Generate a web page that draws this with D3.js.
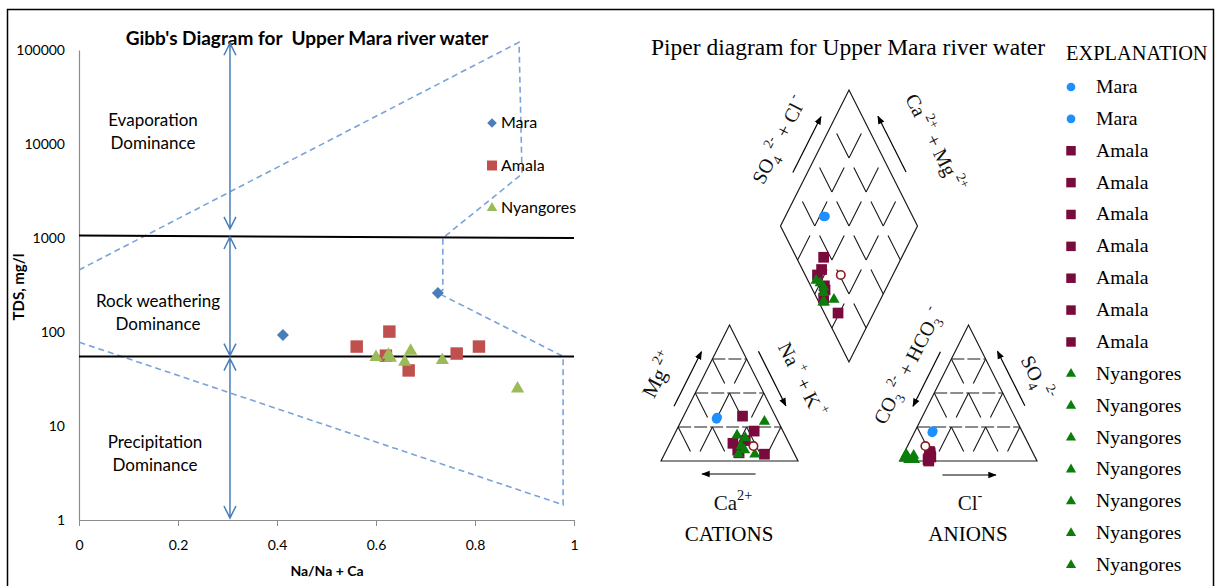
<!DOCTYPE html>
<html>
<head>
<meta charset="utf-8">
<script src="https://cdn.jsdelivr.net/npm/d3@7"></script>
<style>
  body { margin: 0; background: #fff; }
</style>
</head>
<body>
<svg id="chart" width="1216" height="586"></svg>
<script>
// ---- Gibbs data: [Na/(Na+Ca), TDS mg/l]
const gibbsMara = [[0.412, 93], [0.725, 260]];
const gibbsAmala = [[0.561, 70], [0.627, 101], [0.620, 56], [0.666, 39], [0.763, 59], [0.808, 70]];
const gibbsNyangores = [[0.600, 54], [0.629, 53], [0.625, 57], [0.658, 48], [0.670, 63], [0.734, 50], [0.886, 25]];
// dashed boomerang outline and the two zone boundaries
const gibbsOutline = [[0, 457], [0.889, 121000], [0.895, 4800], [0.735, 1000], [0.735, 280], [0.725, 260], [0.978, 55], [0.978, 1.45], [0, 78]];
const zoneLines = [[[0, 1060], [1, 1000]], [[0, 55], [1, 55]]];
const zoneArrows = [[118000, 1250], [1025, 56], [52, 1.05]];
const zoneArrowX = 0.305;
const yTicks = [1, 10, 100, 1000, 10000, 100000];
const xTicks = [0, 0.2, 0.4, 0.6, 0.8, 1];

// ---- Piper data
// cations [Ca, Mg, Na+K] %, anions [HCO3+CO3, SO4, Cl] %, diamond [Na+K, SO4+Cl] %
const maraCations = [[43, 32, 25], [44, 31, 25]];
const maraAnions = [[65, 22, 13], [66, 21, 13]];
const maraDiamond = [[28, 35], [29, 36]];
const amalaCations = [[24, 33, 43], [21, 22, 57], [41, 13, 46], [22, 5, 73], [40, 6, 54], [31, 15, 54], [40, 8, 52]];
const amalaAnions = [[75, 7, 18], [78, 2, 20], [76, 4, 20], [79, 1, 20], [76, 3, 21], [79, 0, 21], [75, 6, 19]];
const amalaDiamond = [[43, 20], [45, 9], [54, 10], [58, 5], [74, 10], [46, 14], [56, 9]];
const nyangoresCations = [[10, 29, 61], [35, 19, 46], [30, 17, 53], [36, 11, 53], [29, 5, 66], [41, 5, 54], [35, 8, 57]];
const nyangoresAnions = [[96, 2, 2], [93, 3, 4], [91, 1, 8], [88, 4, 8], [93, 5, 2], [93, 1, 6], [89, 1, 10]];
const nyangoresDiamond = [[46, 6], [54, 9], [56, 7], [59, 3], [66, 12], [60, 4], [50, 8]];
const openCations = [[27, 11, 62]];
const openAnions = [[76, 11, 13]];
const openDiamond = [[62, 26]];

const serif = '"Liberation Serif", "Times New Roman", serif';
const sans = 'Lato, "Open Sans", sans-serif';

const svg = d3.select('#chart');

// frame
svg.append('rect')
  .attr('x', 7.5).attr('y', 9.5)
  .attr('width', 1206).attr('height', 600)
  .attr('fill', 'none').attr('stroke', '#000').attr('stroke-width', 1.5);

// ================= GIBBS =================
const gx = d3.scaleLinear().domain([0, 1]).range([79, 574]);
const gy = d3.scaleLog().domain([1, 100000]).range([520, 50]);
const gibbs = svg.append('g');

gibbs.append('text')
  .attr('x', 307).attr('y', 45)
  .attr('text-anchor', 'middle')
  .attr('font-family', sans).attr('font-weight', 'bold').attr('font-size', 19)
  .attr('xml:space', 'preserve')
  .text("Gibb's Diagram for  Upper Mara river water");

const xAxis = gibbs.append('g')
  .attr('transform', `translate(0,${gy(1)})`)
  .call(d3.axisBottom(gx).tickValues(xTicks).tickFormat(d => d).tickSize(6).tickSizeOuter(0).tickPadding(14));
const yAxis = gibbs.append('g')
  .attr('transform', `translate(${gx(0)},0)`)
  .call(d3.axisLeft(gy).tickValues(yTicks).tickFormat(d3.format('d')).tickSize(0).tickPadding(14));
[xAxis, yAxis].forEach(a => {
  a.select('.domain').attr('stroke', '#8c8c8c').attr('stroke-width', 1.2);
  a.selectAll('.tick line').attr('stroke', '#8c8c8c');
  a.selectAll('text').attr('font-family', sans).attr('font-size', 14).attr('fill', '#000');
});

gibbs.append('text')
  .attr('transform', `translate(24,287) rotate(-90)`)
  .attr('text-anchor', 'middle')
  .attr('font-family', sans).attr('font-weight', 'bold').attr('font-size', 15)
  .text('TDS, mg/l');
gibbs.append('text')
  .attr('x', 327).attr('y', 576)
  .attr('text-anchor', 'middle')
  .attr('font-family', sans).attr('font-weight', 'bold').attr('font-size', 14)
  .text('Na/Na + Ca');

// dashed outline
const gLine = d3.line().x(d => gx(d[0])).y(d => gy(d[1]));
gibbs.append('path')
  .attr('d', gLine(gibbsOutline))
  .attr('fill', 'none').attr('stroke', '#7aa3d8').attr('stroke-width', 1.6)
  .attr('stroke-dasharray', '6,4');

// zone boundaries
gibbs.selectAll('.zone').data(zoneLines).join('path')
  .attr('class', 'zone')
  .attr('d', gLine)
  .attr('stroke', '#000').attr('stroke-width', 2).attr('fill', 'none');

// double headed arrows
const ax = gx(zoneArrowX);
const head = (y, dir) => `M${ax - 6},${y - dir * 12}L${ax},${y}L${ax + 6},${y - dir * 12}`;
zoneArrows.forEach(([top, bot]) => {
  const y1 = gy(top), y2 = gy(bot);
  gibbs.append('path')
    .attr('d', `M${ax},${y1}L${ax},${y2}` + head(y1, -1) + head(y2, 1))
    .attr('fill', 'none').attr('stroke', '#4a7ebb').attr('stroke-width', 1.5);
});

// zone labels
const zoneLabels = [['Evaporation', 'Dominance', 153, 126], ['Rock weathering', 'Dominance', 158, 307], ['Precipitation', 'Dominance', 155, 448]];
zoneLabels.forEach(([a, b, x, y]) => {
  const t = gibbs.append('text').attr('text-anchor', 'middle')
    .attr('font-family', sans).attr('font-size', 17).attr('fill', '#000');
  t.append('tspan').attr('x', x).attr('y', y).text(a);
  t.append('tspan').attr('x', x).attr('y', y + 23).text(b);
});

// points
const diamondSym = d3.symbol().type(d3.symbolSquare).size(72)();
const squareSym = d3.symbol().type(d3.symbolSquare).size(155)();
const triSym = d3.symbol().type(d3.symbolTriangle).size(75)();
const gibbsSeries = [
  { name: 'Mara', data: gibbsMara, d: diamondSym, rot: 45, color: '#4a7ebb' },
  { name: 'Amala', data: gibbsAmala, d: squareSym, rot: 0, color: '#c0504d' },
  { name: 'Nyangores', data: gibbsNyangores, d: triSym, rot: 0, color: '#9bbb59' }
];
gibbsSeries.forEach(s => {
  gibbs.append('g').selectAll('path').data(s.data).join('path')
    .attr('d', s.d)
    .attr('transform', d => `translate(${gx(d[0])},${gy(d[1])}) rotate(${s.rot})`)
    .attr('fill', s.color);
});

// legend
const gLegend = gibbs.append('g').attr('transform', 'translate(492,123)');
gibbsSeries.forEach((s, i) => {
  gLegend.append('path').attr('d', s.d)
    .attr('transform', `translate(0,${i * 42.5}) scale(0.8) rotate(${s.rot})`)
    .attr('fill', s.color);
  gLegend.append('text').attr('x', 9).attr('y', i * 42.5 + 5)
    .attr('font-family', sans).attr('font-size', 16).text(s.name);
});

// ================= PIPER =================
const piper = svg.append('g');
const triW = 137, triH = 136;
const cationLeft = 661, anionLeft = 900, baseY = 461;
const dB = [(cationLeft + triW + anionLeft) / 2, 362];
const pw = d3.scaleLinear().domain([0, 100]).range([0, triW]);
const ph = d3.scaleLinear().domain([0, 100]).range([0, triH]);

const cationPt = ([ca, mg, nak]) => [cationLeft + pw(nak + mg / 2), baseY - ph(mg)];
const anionPt = ([hco3, so4, cl]) => [anionLeft + pw(cl + so4 / 2), baseY - ph(so4)];
const diamondPt = ([nak, sc]) => {
  const a = sc, c = 100 - nak;
  return [dB[0] + pw(a - c) / 2, dB[1] - ph(a + c)];
};

piper.append('text')
  .attr('x', 848).attr('y', 55).attr('text-anchor', 'middle')
  .attr('font-family', serif).attr('font-size', 23.5)
  .text('Piper diagram for Upper Mara river water');

const ink = '#1a1a1a';
const lerp = (p, q, t) => [p[0] + (q[0] - p[0]) * t, p[1] + (q[1] - p[1]) * t];
const dist = (p, q) => Math.hypot(q[0] - p[0], q[1] - p[1]);

function gridLine(p, q, segLen, dash) {
  piper.append('line')
    .attr('x1', p[0]).attr('y1', p[1]).attr('x2', q[0]).attr('y2', q[1])
    .attr('stroke', ink).attr('stroke-width', 1.1)
    .attr('stroke-dasharray', dash || `${segLen * 0.72} ${segLen * 0.28}`);
}

// triangles
function triangle(left) {
  const A = [left, baseY], C = [left + triW, baseY], T = [left + triW / 2, baseY - triH];
  piper.append('path').attr('d', `M${A}L${T}L${C}Z`)
    .attr('fill', 'none').attr('stroke', ink).attr('stroke-width', 1.2);
  const seg = dist(A, T) / 4;
  for (let k = 1; k <= 3; k++) {
    // horizontal
    gridLine(lerp(A, T, 1 - k / 4), lerp(C, T, 1 - k / 4), 0, '13 3');
    // lines parallel to the left side, drawn from the top down
    gridLine(lerp(C, T, 1 - k / 4), lerp(A, C, k / 4), seg);
    // lines parallel to the right side, drawn from the top down
    gridLine(lerp(A, T, k / 4), lerp(A, C, k / 4), seg);
  }
  return { A, C, T };
}
const cTri = triangle(cationLeft);
const aTri = triangle(anionLeft);

// diamond
const dL = [dB[0] - triW / 2, dB[1] - triH], dR = [dB[0] + triW / 2, dB[1] - triH], dT = [dB[0], dB[1] - 2 * triH];
piper.append('path').attr('d', `M${dB}L${dL}L${dT}L${dR}Z`)
  .attr('fill', 'none').attr('stroke', ink).attr('stroke-width', 1.2);
const dSeg = dist(dB, dL) / 4;
for (let k = 1; k <= 3; k++) {
  const s1 = lerp(dB, dR, k / 4);
  gridLine(s1, [s1[0] + dL[0] - dB[0], s1[1] + dL[1] - dB[1]], dSeg);
  const s2 = lerp(dB, dL, k / 4);
  gridLine(s2, [s2[0] + dR[0] - dB[0], s2[1] + dR[1] - dB[1]], dSeg);
}

// arrows parallel to the sides
svg.append('defs').append('marker')
  .attr('id', 'ah').attr('viewBox', '0 0 10 10').attr('refX', 9).attr('refY', 5)
  .attr('markerWidth', 7).attr('markerHeight', 7).attr('orient', 'auto')
  .append('path').attr('d', 'M0,1L10,5L0,9Z').attr('fill', '#000');

function sideArrow(p, q, t0, t1, off) {
  const L = dist(p, q);
  const n = [-(q[1] - p[1]) / L * off, (q[0] - p[0]) / L * off];
  const a = lerp(p, q, t0), b = lerp(p, q, t1);
  piper.append('line')
    .attr('x1', a[0] + n[0]).attr('y1', a[1] + n[1])
    .attr('x2', b[0] + n[0]).attr('y2', b[1] + n[1])
    .attr('stroke', '#000').attr('stroke-width', 1.2)
    .attr('marker-end', 'url(#ah)');
}
sideArrow(dL, dT, 0.35, 0.76, -13);
sideArrow(dR, dT, 0.35, 0.76, 14);
sideArrow(cTri.A, cTri.T, 0.36, 0.76, -13);
sideArrow(cTri.T, cTri.C, 0.24, 0.64, -14);
sideArrow(cTri.C, cTri.A, 0.31, 0.70, -13);
sideArrow(aTri.T, aTri.A, 0.24, 0.64, 13);
sideArrow(aTri.C, aTri.T, 0.36, 0.76, 14);
sideArrow(aTri.A, aTri.C, 0.31, 0.70, 14);

// chemistry labels: 0 normal, 1 subscript, 2 superscript
function chem(parts, x, y, angle, size) {
  const t = piper.append('text')
    .attr('transform', `translate(${x},${y}) rotate(${angle})`)
    .attr('text-anchor', 'middle')
    .attr('font-family', serif).attr('font-size', size).attr('fill', '#111');
  let cur = 0;
  parts.forEach(([s, k]) => {
    const shift = k === 1 ? size * 0.28 : k === 2 ? -size * 0.5 : 0;
    t.append('tspan').attr('dy', shift - cur).attr('font-size', k ? size * 0.68 : size).text(s);
    cur = shift;
  });
}
chem([['SO', 0], ['4', 1], [' 2-', 2], ['  + Cl', 0], [' -', 2]], 785, 143, -63, 20);
chem([['Ca', 0], [' 2+', 2], [' + Mg', 0], [' 2+', 2]], 929, 146, 63, 20);
chem([['Mg', 0], [' 2+', 2]], 665, 378, -63, 21);
chem([['Na', 0], [' +', 2], [' + K', 0], [' +', 2]], 796, 383, 63, 20);
chem([['CO', 0], ['3', 1], [' 2-', 2], [' + HCO', 0], ['3', 1], [' -', 2]], 914, 369, -63, 20);
chem([['SO', 0], ['4', 1], [' 2-', 2]], 1031, 381, 63, 20);
chem([['Ca', 0], ['2+', 2]], 733, 510, 0, 21);
chem([['Cl', 0], ['-', 2]], 970, 510, 0, 21);
piper.append('text').attr('x', 729).attr('y', 541).attr('text-anchor', 'middle')
  .attr('font-family', serif).attr('font-size', 21).text('CATIONS');
piper.append('text').attr('x', 968).attr('y', 541).attr('text-anchor', 'middle')
  .attr('font-family', serif).attr('font-size', 21).text('ANIONS');

// piper markers
const pCircle = d3.symbol().type(d3.symbolCircle).size(72)();
const pSquare = d3.symbol().type(d3.symbolSquare).size(115)();
const pTri = d3.symbol().type(d3.symbolTriangle).size(55)();
const piperSeries = [
  { name: 'Mara', cat: maraCations, an: maraAnions, dia: maraDiamond, d: pCircle, color: '#1e8fff' },
  { name: 'Amala', cat: amalaCations, an: amalaAnions, dia: amalaDiamond, d: pSquare, color: '#7a0a3c' },
  { name: 'Nyangores', cat: nyangoresCations, an: nyangoresAnions, dia: nyangoresDiamond, d: pTri, color: '#0a7d0a' }
];
piperSeries.forEach(s => {
  const pts = s.cat.map(cationPt).concat(s.an.map(anionPt), s.dia.map(diamondPt));
  piper.append('g').selectAll('path').data(pts).join('path')
    .attr('d', s.d)
    .attr('transform', d => `translate(${d[0]},${d[1]})`)
    .attr('fill', s.color);
});
const openPts = openCations.map(cationPt).concat(openAnions.map(anionPt), openDiamond.map(diamondPt));
piper.append('g').selectAll('circle').data(openPts).join('circle')
  .attr('cx', d => d[0]).attr('cy', d => d[1]).attr('r', 4.2)
  .attr('fill', '#fff').attr('stroke', '#8b1a1a').attr('stroke-width', 1.6);

// explanation legend
piper.append('text').attr('x', 1066).attr('y', 60)
  .attr('font-family', serif).attr('font-size', 20.4).text('EXPLANATION');
const legendRows = piperSeries.flatMap(s => s.cat.map(() => s));
const legendSym = [d3.symbol().type(d3.symbolCircle).size(60)(), d3.symbol().type(d3.symbolSquare).size(90)(), d3.symbol().type(d3.symbolTriangle).size(45)()];
const leg = piper.append('g').selectAll('g').data(legendRows).join('g')
  .attr('transform', (d, i) => `translate(1071,${87 + i * 31.87})`);
leg.append('path').attr('d', d => legendSym[piperSeries.indexOf(d)])
  .attr('fill', d => d.color);
leg.append('text').attr('x', 25).attr('y', 6)
  .attr('font-family', serif).attr('font-size', 19.7).text(d => d.name);
</script>
</body>
</html>
